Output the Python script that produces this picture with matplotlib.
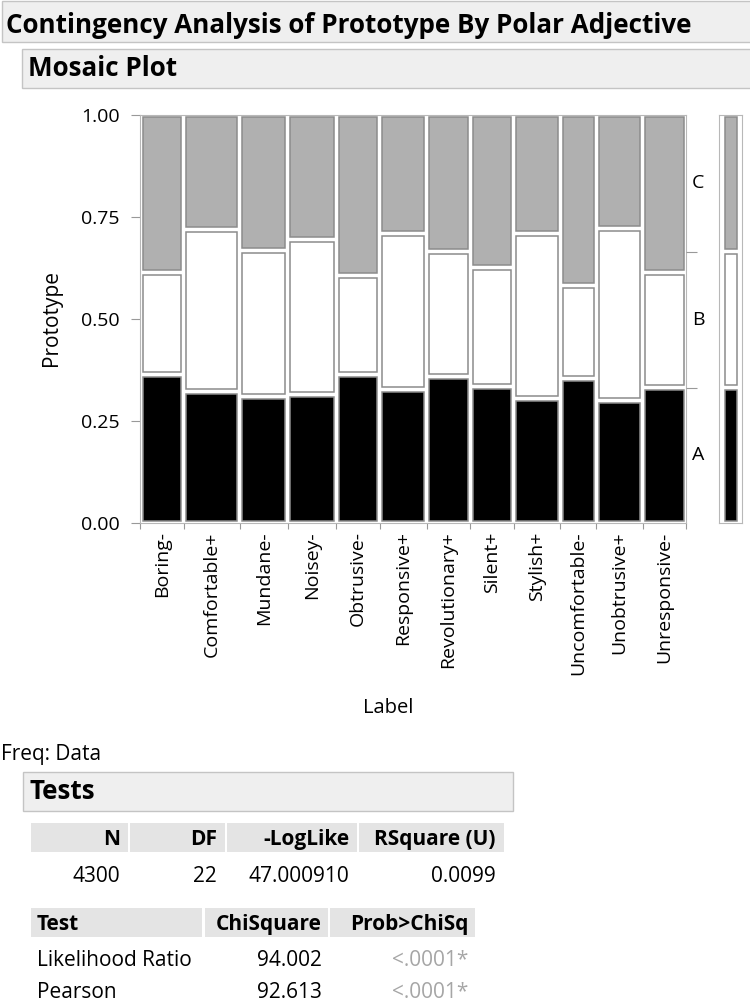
import numpy as np
import matplotlib
matplotlib.use("Agg")
import matplotlib.pyplot as plt
from matplotlib.patches import Rectangle
import matplotlib.transforms as mtransforms

plt.rcParams['font.family'] = ['Open Sans', 'DejaVu Sans']

# counts and within-label shares of each prototype
labels = ['Boring-', 'Comfortable+', 'Mundane-', 'Noisey-', 'Obtrusive-', 'Responsive+',
          'Revolutionary+', 'Silent+', 'Stylish+', 'Uncomfortable-', 'Unobtrusive+', 'Unresponsive-']
counts = [345, 440, 380, 380, 345, 370, 340, 345, 365, 285, 365, 340]
share_a = [0.364, 0.322, 0.310, 0.314, 0.364, 0.327, 0.360, 0.335, 0.306, 0.355, 0.301, 0.331]
share_b = [0.251, 0.397, 0.359, 0.380, 0.242, 0.383, 0.305, 0.292, 0.404, 0.226, 0.421, 0.284]
levels = ['A', 'B', 'C']
level_colors = ['#000000', '#ffffff', '#b0b0b0']
yticks = [0.0, 0.25, 0.5, 0.75, 1.0]

# test tables
fit_cols = ['N', 'DF', '-LogLike', 'RSquare (U)']
fit_vals = ['4300', '22', '47.000910', '0.0099']
test_cols = ['Test', 'ChiSquare', 'Prob>ChiSq']
test_names = ['Likelihood Ratio', 'Pearson']
chisq = ['94.002', '92.613']
pvals = ['<.0001*', '<.0001*']

W, H = 750, 1005
HEAD = 18.7
BODY = 15
fig = plt.figure(figsize=(W / 100, H / 100), dpi=100)


def px_axes(x0, y0, x1, y1):
    return fig.add_axes([x0 / W, 1 - y1 / H, (x1 - x0) / W, (y1 - y0) / H])


page = fig.add_axes([0, 0, 1, 1])
page.set_xlim(0, W)
page.set_ylim(H, 0)
page.axis('off')


def bar(x0, y0, x1, y1, fc='#efefef', ec='#c4c4c4'):
    page.add_patch(Rectangle((x0, y0), x1 - x0, y1 - y0, fc=fc, ec=ec, lw=1.0))


# outline headers
bar(2, 1, 760, 42)
page.text(6, 32.5, 'Contingency Analysis of Prototype By Polar Adjective', fontsize=HEAD,
          fontweight='bold', va='baseline')
bar(22, 49, 760, 88)
page.text(28, 76, 'Mosaic Plot', fontsize=HEAD, fontweight='bold', va='baseline')

# mosaic plot
AX_L, AX_T, AX_R, AX_B = 140, 115, 686, 523
ax = px_axes(AX_L, AX_T, AX_R, AX_B)
counts = np.array(counts)
share_a = np.array(share_a)
share_b = np.array(share_b)
share_c = 1 - share_a - share_b
total = counts.sum()
edges = np.concatenate([[0], np.cumsum(counts)])
centers = (edges[:-1] + edges[1:]) / 2
ax.set_xlim(0, total)
ax.set_ylim(0, 1)
gx = 2.5 * total / (AX_R - AX_L)
gy = 2.5 / (AX_B - AX_T)
cell_ec = '#8c8c8c'
for i in range(len(labels)):
    bottom = 0
    for share, col in zip([share_a[i], share_b[i], share_c[i]], level_colors):
        ax.add_patch(Rectangle((edges[i] + gx, bottom + gy), counts[i] - 2 * gx, share - 2 * gy,
                               fc=col, ec=cell_ec, lw=1.1))
        bottom += share
for sp in ax.spines.values():
    sp.set_color('#b8b8b8')
ax.set_yticks(yticks)
ax.set_yticklabels(['%.2f' % v for v in yticks])
ax.tick_params(axis='y', length=6.5, color='#999999', labelsize=14, pad=8)
ax.set_xticks(edges)
ax.set_xticklabels([])
ax.tick_params(axis='x', which='major', length=4, color='#999999')
ax.set_xticks(centers, minor=True)
ax.set_xticklabels(labels, minor=True, rotation=90, fontsize=14)
ax.tick_params(axis='x', which='minor', length=0, pad=6)

# marginal split on the right
marg = np.array([np.sum(counts * s) for s in (share_a, share_b, share_c)]) / total
bounds = np.cumsum(marg)[:-1]
ax2 = ax.twinx()
ax2.set_ylim(0, 1)
ax2.set_yticks(bounds)
ax2.set_yticklabels([])
ax2.tick_params(axis='y', length=8, color='#999999')
for sp in ax2.spines.values():
    sp.set_visible(False)
mids = np.cumsum(marg) - marg / 2
tr = mtransforms.blended_transform_factory(ax.transAxes, ax.transData)
for lev, m in zip(levels, mids):
    ax.text(1 + 6 / (AX_R - AX_L), m, lev, transform=tr, fontsize=14, va='center', ha='left')

page.text(52, 318, 'Prototype', fontsize=15, rotation=90, ha='center', va='center')
page.text(388, 708, 'Label', fontsize=14.5, ha='center', va='center')

mx = px_axes(719, AX_T, 742, AX_B)
mx.set_xlim(0, 23)
mx.set_ylim(0, 1)
mx.set_xticks([])
mx.set_yticks([])
for sp in mx.spines.values():
    sp.set_color('#b8b8b8')
bottom = 0
for share, col in zip(marg, level_colors):
    mx.add_patch(Rectangle((5.5, bottom + gy), 12.5, share - 2 * gy, fc=col, ec=cell_ec, lw=1.1))
    bottom += share

# tests section
page.text(1, 760, 'Freq: Data', fontsize=BODY, va='baseline')
bar(23, 772, 513, 811)
page.text(30, 799, 'Tests', fontsize=HEAD, fontweight='bold', va='baseline')

hdr = '#e4e4e4'
fit_cells = [(31, 128), (130, 225), (227, 357), (359, 504)]
for (c0, c1), name, val in zip(fit_cells, fit_cols, fit_vals):
    page.add_patch(Rectangle((c0, 823), c1 - c0, 29, fc=hdr, ec='none'))
    page.text(c1 - 8, 845, name, fontsize=BODY, fontweight='bold', ha='right', va='baseline')
    page.text(c1 - 8, 882, val, fontsize=BODY, ha='right', va='baseline')

test_cells = [(31, 202), (205, 328), (330, 475)]
for (c0, c1) in test_cells:
    page.add_patch(Rectangle((c0, 908), c1 - c0, 29, fc=hdr, ec='none'))
page.text(37, 930, test_cols[0], fontsize=BODY, fontweight='bold', va='baseline')
page.text(322, 930, test_cols[1], fontsize=BODY, fontweight='bold', ha='right', va='baseline')
page.text(468, 930, test_cols[2], fontsize=BODY, fontweight='bold', ha='right', va='baseline')
for k, (nm, cs, pv) in enumerate(zip(test_names, chisq, pvals)):
    yb = 966 + 32 * k
    page.text(37, yb, nm, fontsize=BODY, va='baseline')
    page.text(322, yb, cs, fontsize=BODY, ha='right', va='baseline')
    page.text(468, yb, pv, fontsize=BODY, ha='right', va='baseline', color='#a6a6a6')

fig.savefig('out.png', dpi=100)
